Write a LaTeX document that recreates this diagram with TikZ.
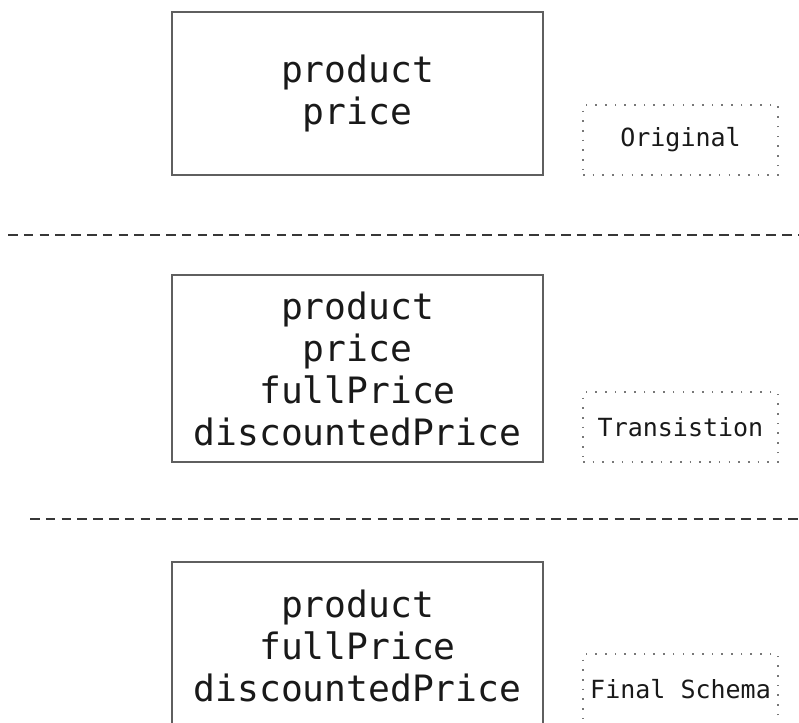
\documentclass[tikz,border=0pt]{standalone}
\usepackage{fontspec}
\setmonofont{DejaVu Sans Mono}
\usetikzlibrary{positioning}
\definecolor{BoxGray}{RGB}{95,95,95}
\definecolor{DotGray}{RGB}{120,120,120}
\definecolor{RuleGray}{RGB}{55,55,55}
\definecolor{InkBlack}{RGB}{25,25,25}
\tikzset{
  fieldbox/.style={draw=BoxGray,line width=2pt,rectangle,minimum width=371pt,
    align=center,text=InkBlack,inner sep=0pt,
    font=\ttfamily\fontsize{36.3}{42}\selectfont},
  stagetag/.style={draw=DotGray,line width=1.6pt,dash pattern=on 1.6pt off 8.1pt,
    rectangle,minimum width=195pt,minimum height=70pt,text=InkBlack,inner sep=0pt,
    font=\ttfamily\fontsize{25}{30}\selectfont},
  stagerule/.style={draw=RuleGray,line width=2.2pt,dash pattern=on 9.5pt off 6.3pt}
}
\begin{document}
\begin{tikzpicture}[x=1pt,y=-1pt]
      \useasboundingbox (0,0) rectangle (799,722);
      \clip (0,0) rectangle (799,722);
      % schema boxes
      \node[fieldbox,minimum height=163pt] (orig) at (357.5,93.5) {product\\price};
      \node[fieldbox,minimum height=187pt] (trans) at (357.5,368.5) {product\\price\\fullPrice\\discountedPrice};
      \node[fieldbox,minimum height=168pt] (final) at (357.5,646) {product\\fullPrice\\discountedPrice};
      % stage tags
      \node[stagetag] (origtag) at (680.5,140) {Original};
      \node[stagetag] (transtag) at (680.5,427) {Transistion};
      \node[stagetag] (finaltag) at (680.5,689) {Final Schema};
      % separators
      \coordinate (sepAw) at (8,235);
      \coordinate (sepAe) at (799,235);
      \coordinate (sepBw) at (30,519);
      \coordinate (sepBe) at (799,519);
      \draw[stagerule] (sepAw) -- (sepAe);
      \draw[stagerule] (sepBw) -- (sepBe);
    \end{tikzpicture}
\end{document}
